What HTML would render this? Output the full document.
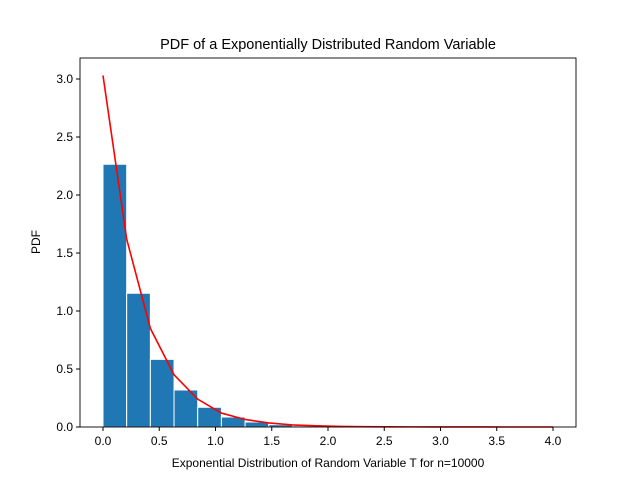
<!DOCTYPE html>
<html><head><meta charset="utf-8"><style>
html,body{margin:0;padding:0;background:#fff;}
svg{display:block;font-family:"Liberation Sans","DejaVu Sans",sans-serif;}
</style></head><body>
<svg id="chart" width="640" height="480" xmlns="http://www.w3.org/2000/svg">
<rect width="640" height="480" fill="#fff"/>
<text x="328" y="49" font-size="14.5" text-anchor="middle">PDF of a Exponentially Distributed Random Variable</text>
<g id="bars"></g>
<g id="line"></g>
<rect x="80" y="58" width="496" height="369" fill="none" stroke="#000" stroke-width="0.9"/>
<g id="xticks"></g><g id="yticks"></g>
<text x="328" y="467" font-size="12" text-anchor="middle">Exponential Distribution of Random Variable T for n=10000</text>
<text x="40" y="242" font-size="12" text-anchor="middle" transform="rotate(-90 40 242)">PDF</text>
</svg>
<script>
const binWidth = 0.2105;
const barHeights = [2.265,1.153,0.583,0.319,0.17,0.086,0.043,0.02,0.01,0.005,0.003,0.0015,0.001,0.0005,0,0,0,0,0];
const lineX = [0,0.2105,0.421,0.6315,0.842,1.0525,1.263,1.4735,1.684,1.8945,2.105,2.3155,2.526,2.7365,2.947,3.1575,3.368,3.5785,3.789,4.0];
const lineY = [3.03,1.62,0.85,0.45,0.24,0.12,0.065,0.035,0.018,0.01,0.005,0.003,0.0015,0.001,0.0005,0.0003,0.0002,0.0001,0,0];
const xTickVals = [0,0.5,1,1.5,2,2.5,3,3.5,4];
const xTickLabels = ["0.0","0.5","1.0","1.5","2.0","2.5","3.0","3.5","4.0"];
const yTickVals = [0,0.5,1,1.5,2,2.5,3];
const yTickLabels = ["0.0","0.5","1.0","1.5","2.0","2.5","3.0"];
const NS="http://www.w3.org/2000/svg";
const xs=v=>103+v*112.5, ys=v=>427-v*116;
const bars=document.getElementById('bars');
barHeights.forEach((h,i)=>{
  if(h<=0)return;
  const r=document.createElementNS(NS,'rect');
  const x0=xs(i*binWidth), x1=xs((i+1)*binWidth);
  r.setAttribute('x',x0);r.setAttribute('width',x1-x0);
  r.setAttribute('y',ys(h));r.setAttribute('height',427-ys(h));
  r.setAttribute('fill','#1f77b4');r.setAttribute('stroke','#fff');r.setAttribute('stroke-width','1');
  
  
  bars.appendChild(r);
});
const p=document.createElementNS(NS,'polyline');
p.setAttribute('points',lineX.map((x,i)=>xs(x)+','+ys(lineY[i])).join(' '));
p.setAttribute('fill','none');p.setAttribute('stroke','#f00');p.setAttribute('stroke-width','1.6');


document.getElementById('line').appendChild(p);
const xt=document.getElementById('xticks');
xTickVals.forEach((v,i)=>{
  const l=document.createElementNS(NS,'line');
  l.setAttribute('x1',xs(v));l.setAttribute('x2',xs(v));l.setAttribute('y1',427);l.setAttribute('y2',431);l.setAttribute('stroke','#000');
  
  
  xt.appendChild(l);
  const t=document.createElementNS(NS,'text');
  t.setAttribute('x',xs(v));t.setAttribute('y',445);t.setAttribute('font-size','12');t.setAttribute('text-anchor','middle');
  t.textContent=xTickLabels[i];
  
  
  xt.appendChild(t);
});
const yt=document.getElementById('yticks');
yTickVals.forEach((v,i)=>{
  const l=document.createElementNS(NS,'line');
  l.setAttribute('x1',76);l.setAttribute('x2',80);l.setAttribute('y1',ys(v));l.setAttribute('y2',ys(v));l.setAttribute('stroke','#000');
  
  
  yt.appendChild(l);
  const t=document.createElementNS(NS,'text');
  t.setAttribute('x',73);t.setAttribute('y',ys(v)+4);t.setAttribute('font-size','12');t.setAttribute('text-anchor','end');
  t.textContent=yTickLabels[i];
  
  
  yt.appendChild(t);
});
</script>
</body></html>
